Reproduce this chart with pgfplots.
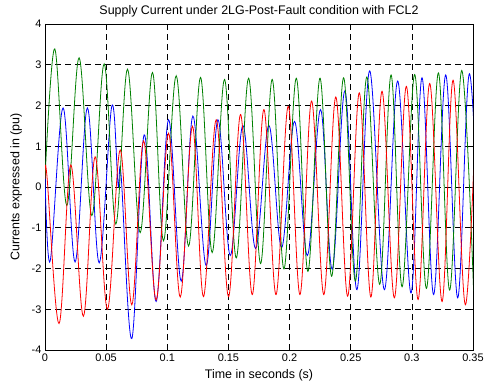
\documentclass[border=0pt]{standalone}
\usepackage{fontspec}
\setmainfont{Liberation Sans}
\usepackage{pgfplots}
\pgfplotsset{compat=1.18}
\definecolor{mgreen}{rgb}{0,0.5,0}
\begin{document}
\begin{tikzpicture}
\begin{axis}[
  scale only axis, width=428bp, height=326bp,
  xmin=0, xmax=0.35, ymin=-4, ymax=4,
  xtick={0,0.05,0.1,0.15,0.2,0.25,0.3,0.35},
  xticklabels={0,0.05,0.1,0.15,0.2,0.25,0.3,0.35},
  ytick={-4,-3,-2,-1,0,1,2,3,4},
  yticklabels={-4,-3,-2,-1,0,1,2,3,4},
  tick align=inside, tick pos=both,
  major tick length=4bp,
  grid=major,
  major grid style={black, dash pattern=on 6bp off 4bp, line width=0.5bp},
  axis line style={black, line width=0.8bp},
  tick style={black, line width=0.6bp},
  tick label style={font=\fontsize{11}{13}\selectfont},
  label style={font=\fontsize{12.5}{14}\selectfont},
  title style={font=\fontsize{12.5}{14}\selectfont, yshift=-3bp},
  xlabel style={yshift=-1bp},
  ylabel style={yshift=3bp},
  title={Supply Current under 2LG-Post-Fault condition with FCL2},
  xlabel={Time in seconds (s)},
  ylabel={Currents expressed in (pu)},
  every axis plot/.append style={line width=0.8bp, smooth, tension=0.6},
]
% blue
\addplot[blue] coordinates {
(0,0.3) (0.0042,-1.82) (0.0148,1.94) (0.0246,-1.84) (0.0347,1.94) (0.0443,-1.86)
(0.0546,1.98) (0.0598,0.05) (0.0622,0.3) (0.0710,-3.72) (0.0811,1.28) (0.0909,-2.81)
(0.1010,1.65) (0.1114,-2.31) (0.1209,1.74) (0.1318,-1.93) (0.1414,1.65) (0.1515,-1.68)
(0.1618,1.51) (0.1722,-1.51) (0.1831,1.51) (0.1935,-1.49) (0.2041,1.61) (0.2146,-1.68)
(0.2254,1.90) (0.2349,-2.02) (0.2453,2.36) (0.2551,-2.52) (0.2655,2.85) (0.2775,-2.52)
(0.2884,2.60) (0.2993,-2.60) (0.3083,2.68) (0.3178,-2.64) (0.3277,2.75) (0.3375,-2.72)
(0.3471,2.78) (0.3568,-2.7)
};
% green
\addplot[mgreen] coordinates {
(0,0.2) (0.0080,3.39) (0.0178,-0.45) (0.0279,3.17) (0.0383,-0.70) (0.0484,3.02)
(0.0579,-0.91) (0.0675,2.89) (0.0778,-1.12) (0.0879,2.81) (0.0969,-1.32) (0.1073,2.73)
(0.1174,-1.45) (0.1272,2.69) (0.1367,-1.61) (0.1468,2.64) (0.1564,-1.74) (0.1665,2.67)
(0.1763,-1.88) (0.1858,2.64) (0.1954,-2.01) (0.2055,2.67) (0.2150,-2.07) (0.2249,2.67)
(0.2344,-2.19) (0.2442,2.68) (0.2538,-2.31) (0.2632,2.70) (0.2737,-2.39) (0.2830,2.75)
(0.2920,-2.45) (0.3023,2.76) (0.3119,-2.49) (0.3217,2.80) (0.3309,-2.53) (0.3408,2.86)
(0.3505,-2.55)
};
% red
\addplot[red] coordinates {
(0,0.2) (0.0015,0.3) (0.0115,-3.35) (0.0211,0.54) (0.0314,-3.17) (0.0410,0.74)
(0.0511,-3.00) (0.0615,0.91) (0.0710,-2.89) (0.0806,1.13) (0.0909,-2.77) (0.1010,1.32)
(0.1106,-2.70) (0.1206,1.49) (0.1296,-2.69) (0.1400,1.65) (0.1501,-2.69) (0.1599,1.78)
(0.1695,-2.64) (0.1790,1.90) (0.1889,-2.64) (0.1989,1.98) (0.2085,-2.64) (0.2180,2.11)
(0.2280,-2.64) (0.2378,2.21) (0.2475,-2.68) (0.2570,2.31) (0.2665,-2.70) (0.2756,2.35)
(0.2857,-2.72) (0.2955,2.47) (0.3051,-2.76) (0.3146,2.54) (0.3247,-2.81) (0.3337,2.62)
(0.3438,-2.89) (0.3533,2.65)
};
\end{axis}
\pgfresetboundingbox
\path[use as bounding box] ([xshift=-45bp,yshift=-38bp]current axis.south west) rectangle ([xshift=14bp,yshift=24bp]current axis.north east);
\end{tikzpicture}
\end{document}
